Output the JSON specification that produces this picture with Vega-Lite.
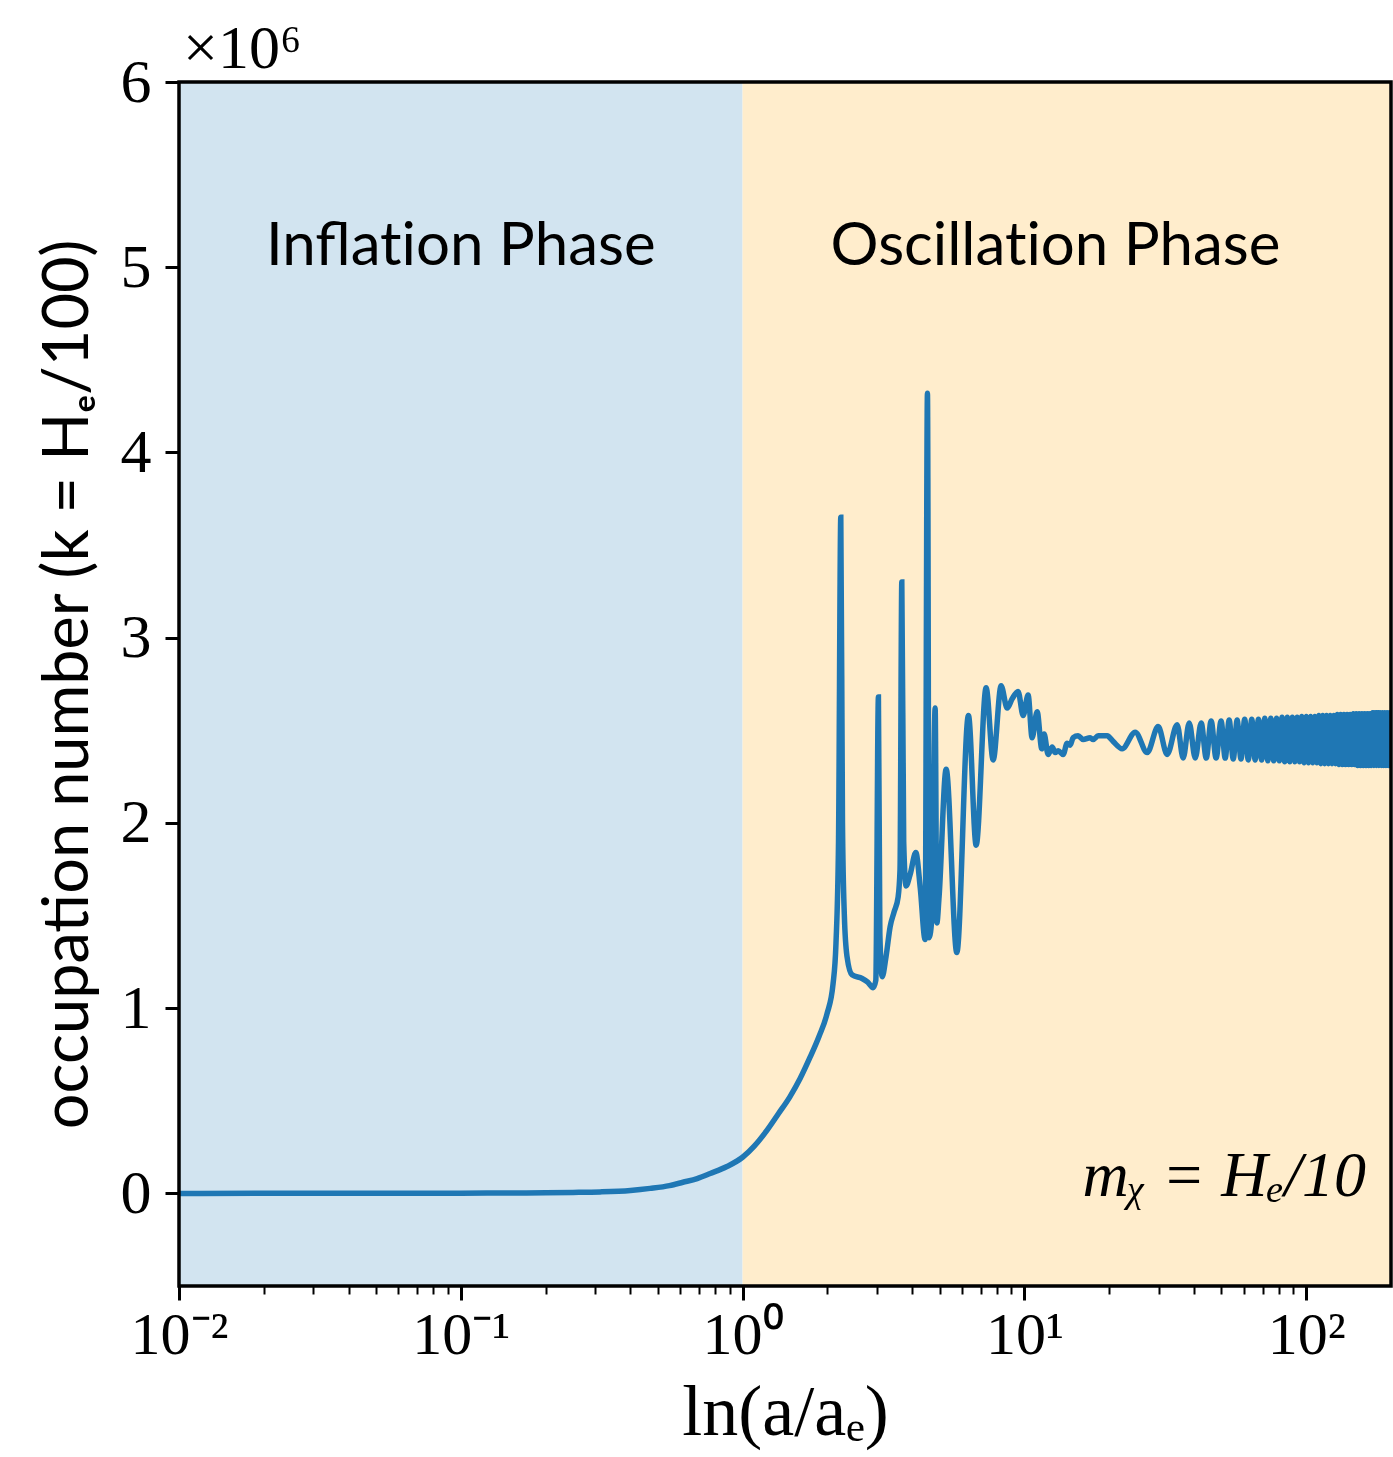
{
  "$schema": "https://vega.github.io/schema/vega-lite/v6.json",
  "autosize": {"type": "none"},
  "width": 1212,
  "height": 1204,
  "padding": {"left": 179, "top": 82, "right": 2, "bottom": 171},
  "background": "white",
  "config": {"view": {"stroke": null}},
  "title": {"text": "×10⁶", "anchor": "start", "frame": "group", "font": "Liberation Serif", "fontSize": 62, "fontWeight": "normal", "color": "black", "offset": 2, "dx": 4, "dy": 32},
  "datasets": {
    "phases": [
      {"start": 0.01, "end": 1, "phase": "Inflation"},
      {"start": 1, "end": 200, "phase": "Oscillation"}
    ],
    "frame": [{"start": 0.01, "end": 200}],
    "labels": [
      {"x": 0.1, "y": 5.11, "text": "Inflat‌ion Phase"},
      {"x": 12.9, "y": 5.11, "text": "Oscillat‌ion Phase"}
    ],
    "mass": [{"x": 163, "y": 0.09, "text": "mᵪ  =  Hₑ/10"}],
    "curve": [
      {"x": 0.01, "y": 0.0}, {"x": 0.02, "y": 0.0001}, {"x": 0.05, "y": 0.0004}, {"x": 0.1, "y": 0.001},
      {"x": 0.15, "y": 0.002}, {"x": 0.2, "y": 0.003}, {"x": 0.25, "y": 0.005}, {"x": 0.312, "y": 0.008},
      {"x": 0.4, "y": 0.016}, {"x": 0.47, "y": 0.027}, {"x": 0.55, "y": 0.042}, {"x": 0.614, "y": 0.06},
      {"x": 0.69, "y": 0.08}, {"x": 0.767, "y": 0.107}, {"x": 0.88, "y": 0.145}, {"x": 1.0, "y": 0.195},
      {"x": 1.1, "y": 0.255}, {"x": 1.22, "y": 0.34}, {"x": 1.34, "y": 0.43}, {"x": 1.47, "y": 0.52},
      {"x": 1.6, "y": 0.62}, {"x": 1.736, "y": 0.735}, {"x": 1.87, "y": 0.85}, {"x": 1.994, "y": 0.97},
      {"x": 2.094, "y": 1.13}, {"x": 2.145, "y": 1.35}, {"x": 2.19, "y": 1.9}, {"x": 2.231, "y": 3.65},
      {"x": 2.262, "y": 2.0}, {"x": 2.297, "y": 1.5}, {"x": 2.347, "y": 1.28}, {"x": 2.446, "y": 1.18},
      {"x": 2.655, "y": 1.16}, {"x": 2.78, "y": 1.14}, {"x": 2.906, "y": 1.11}, {"x": 2.97, "y": 1.15},
      {"x": 3.034, "y": 2.68}, {"x": 3.07, "y": 1.4}, {"x": 3.128, "y": 1.17}, {"x": 3.23, "y": 1.28},
      {"x": 3.339, "y": 1.44}, {"x": 3.45, "y": 1.52}, {"x": 3.564, "y": 1.6}, {"x": 3.62, "y": 1.75},
      {"x": 3.673, "y": 3.3}, {"x": 3.73, "y": 1.9}, {"x": 3.804, "y": 1.66}, {"x": 3.93, "y": 1.72},
      {"x": 4.119, "y": 1.84}, {"x": 4.27, "y": 1.65}, {"x": 4.444, "y": 1.37}, {"x": 4.529, "y": 4.32},
      {"x": 4.592, "y": 1.38}, {"x": 4.7, "y": 1.5}, {"x": 4.823, "y": 2.62}, {"x": 4.891, "y": 1.46},
      {"x": 4.98, "y": 1.6}, {"x": 5.277, "y": 2.29}, {"x": 5.758, "y": 1.3}, {"x": 6.331, "y": 2.58},
      {"x": 6.743, "y": 1.88}, {"x": 7.315, "y": 2.73}, {"x": 7.748, "y": 2.34}, {"x": 8.27, "y": 2.74},
      {"x": 8.69, "y": 2.62}, {"x": 9.05, "y": 2.67}, {"x": 9.5, "y": 2.71}, {"x": 9.9, "y": 2.58},
      {"x": 10.31, "y": 2.69}, {"x": 10.65, "y": 2.46}, {"x": 11.1, "y": 2.6}, {"x": 11.53, "y": 2.4},
      {"x": 11.75, "y": 2.48}, {"x": 12.14, "y": 2.37}, {"x": 12.55, "y": 2.41}, {"x": 12.86, "y": 2.38},
      {"x": 13.18, "y": 2.39}, {"x": 13.73, "y": 2.37}, {"x": 14.18, "y": 2.43}, {"x": 14.54, "y": 2.42},
      {"x": 14.89, "y": 2.46}, {"x": 15.51, "y": 2.47}, {"x": 16.16, "y": 2.45}, {"x": 17.12, "y": 2.46},
      {"x": 17.54, "y": 2.45}, {"x": 18.27, "y": 2.47}, {"x": 19.67, "y": 2.47}, {"x": 20.65, "y": 2.44},
      {"x": 22.23, "y": 2.4}, {"x": 24.73, "y": 2.49}, {"x": 27.28, "y": 2.38}, {"x": 29.84, "y": 2.52},
      {"x": 32.11, "y": 2.37}, {"x": 34.85, "y": 2.53}, {"x": 36.6, "y": 2.35}, {"x": 38.45, "y": 2.54},
      {"x": 40.4, "y": 2.35}, {"x": 42.4, "y": 2.54}, {"x": 44.2, "y": 2.35}, {"x": 46.0, "y": 2.55},
      {"x": 47.9, "y": 2.35}, {"x": 49.9, "y": 2.55}, {"x": 51.6, "y": 2.35}, {"x": 53.3, "y": 2.555},
      {"x": 55.1, "y": 2.345}, {"x": 56.9, "y": 2.555}, {"x": 58.7, "y": 2.345}, {"x": 60.5, "y": 2.56},
      {"x": 62.3, "y": 2.34}, {"x": 64.1, "y": 2.56}, {"x": 65.9, "y": 2.34}, {"x": 67.7, "y": 2.56},
      {"x": 69.5, "y": 2.34}, {"x": 71.3, "y": 2.565}, {"x": 73.1, "y": 2.335}, {"x": 74.9, "y": 2.565},
      {"x": 76.7, "y": 2.335}, {"x": 78.5, "y": 2.565}, {"x": 80.3, "y": 2.335}, {"x": 82.1, "y": 2.57},
      {"x": 83.9, "y": 2.33}, {"x": 85.7, "y": 2.57}, {"x": 87.5, "y": 2.33}, {"x": 89.3, "y": 2.57},
      {"x": 91.1, "y": 2.33}, {"x": 92.9, "y": 2.57}, {"x": 94.7, "y": 2.33}, {"x": 96.5, "y": 2.575},
      {"x": 98.3, "y": 2.325}, {"x": 100.1, "y": 2.575}, {"x": 101.9, "y": 2.325}, {"x": 103.7, "y": 2.575},
      {"x": 105.5, "y": 2.325}, {"x": 107.3, "y": 2.575}, {"x": 109.1, "y": 2.325}, {"x": 110.9, "y": 2.58},
      {"x": 112.7, "y": 2.32}, {"x": 114.5, "y": 2.58}, {"x": 116.3, "y": 2.32}, {"x": 118.1, "y": 2.58},
      {"x": 119.9, "y": 2.32}, {"x": 121.7, "y": 2.58}, {"x": 123.5, "y": 2.32}, {"x": 125.3, "y": 2.58},
      {"x": 127.1, "y": 2.32}, {"x": 128.9, "y": 2.585}, {"x": 130.7, "y": 2.315}, {"x": 132.5, "y": 2.585},
      {"x": 134.3, "y": 2.315}, {"x": 136.1, "y": 2.585}, {"x": 137.9, "y": 2.315}, {"x": 139.7, "y": 2.585},
      {"x": 141.5, "y": 2.315}, {"x": 143.3, "y": 2.585}, {"x": 145.1, "y": 2.315}, {"x": 146.9, "y": 2.59},
      {"x": 148.7, "y": 2.315}, {"x": 150.5, "y": 2.59}, {"x": 152.3, "y": 2.31}, {"x": 154.1, "y": 2.59},
      {"x": 155.9, "y": 2.31}, {"x": 157.7, "y": 2.59}, {"x": 159.5, "y": 2.31}, {"x": 161.3, "y": 2.59},
      {"x": 163.1, "y": 2.31}, {"x": 164.9, "y": 2.59}, {"x": 166.7, "y": 2.31}, {"x": 168.5, "y": 2.59},
      {"x": 170.3, "y": 2.31}, {"x": 172.1, "y": 2.595}, {"x": 173.9, "y": 2.31}, {"x": 175.7, "y": 2.595},
      {"x": 177.5, "y": 2.31}, {"x": 179.3, "y": 2.595}, {"x": 181.1, "y": 2.31}, {"x": 182.9, "y": 2.595},
      {"x": 184.7, "y": 2.31}, {"x": 186.5, "y": 2.595}, {"x": 188.3, "y": 2.31}, {"x": 190.1, "y": 2.595},
      {"x": 191.9, "y": 2.31}, {"x": 193.7, "y": 2.595}, {"x": 195.5, "y": 2.31}, {"x": 197.3, "y": 2.595},
      {"x": 199.1, "y": 2.31}, {"x": 200.9, "y": 2.595}
    ]
  },
  "layer": [
    {
      "data": {"name": "phases"},
      "mark": {"type": "rect"},
      "encoding": {
        "x": {
          "field": "start", "type": "quantitative",
          "scale": {"type": "log", "domain": [0.01, 200], "nice": false},
          "axis": {
            "orient": "bottom",
            "values": [0.01, 0.1, 1, 10, 100],
            "labelExpr": "datum.value < 0.05 ? '10⁻²' : datum.value < 0.5 ? '10⁻¹' : datum.value < 5 ? '10⁰' : datum.value < 50 ? '10¹' : '10²'",
            "title": "ln(a/aₑ)",
            "titleFont": "Liberation Serif", "titleFontSize": 72, "titleFontWeight": "normal", "titleColor": "black", "titlePadding": 12,
            "labelFont": "Liberation Serif", "labelFontSize": 60, "labelColor": "black", "labelPadding": 6,
            "tickSize": 14, "tickWidth": 3, "tickColor": "black",
            "domain": false, "grid": false, "labelFlush": false, "labelOverlap": false
          }
        },
        "x2": {"field": "end"},
        "color": {
          "field": "phase", "type": "nominal",
          "scale": {"domain": ["Inflation", "Oscillation"], "range": ["#d2e4f0", "#ffedcc"]},
          "legend": null
        }
      }
    },
    {
      "data": {"name": "curve"},
      "mark": {"type": "line", "color": "#1f77b4", "strokeWidth": 5.5, "interpolate": "monotone", "clip": true},
      "encoding": {
        "x": {
          "field": "x", "type": "quantitative",
          "axis": {
            "orient": "bottom",
            "values": [0.02, 0.03, 0.04, 0.05, 0.06, 0.07, 0.08, 0.09, 0.2, 0.3, 0.4, 0.5, 0.6, 0.7, 0.8, 0.9, 2, 3, 4, 5, 6, 7, 8, 9, 20, 30, 40, 50, 60, 70, 80, 90],
            "labels": false, "title": null,
            "tickSize": 8, "tickWidth": 2, "tickColor": "black",
            "domain": false, "grid": false
          }
        },
        "y": {
          "field": "y", "type": "quantitative",
          "scale": {"domain": [-0.5, 6], "nice": false, "zero": false},
          "axis": {
            "orient": "left",
            "values": [0, 1, 2, 3, 4, 5, 6],
            "format": "d",
            "title": "occupation number (k = Hₑ/100)",
            "titleFont": "Lato", "titleFontSize": 63, "titleFontWeight": "normal", "titleColor": "black", "titlePadding": 20,
            "labelFont": "Liberation Serif", "labelFontSize": 62, "labelColor": "black", "labelPadding": 14,
            "tickSize": 14, "tickWidth": 3, "tickColor": "black",
            "domain": false, "grid": false
          }
        }
      }
    },
    {
      "data": {"name": "labels"},
      "mark": {"type": "text", "font": "Lato", "fontSize": 60, "color": "black", "align": "center", "baseline": "middle"},
      "encoding": {
        "x": {"field": "x", "type": "quantitative", "axis": null},
        "y": {"field": "y", "type": "quantitative"},
        "text": {"field": "text"}
      }
    },
    {
      "data": {"name": "mass"},
      "mark": {"type": "text", "font": "Liberation Serif", "fontStyle": "italic", "fontSize": 64, "color": "black", "align": "right", "baseline": "middle"},
      "encoding": {
        "x": {"field": "x", "type": "quantitative", "axis": null},
        "y": {"field": "y", "type": "quantitative"},
        "text": {"field": "text"}
      }
    },
    {
      "data": {"name": "frame"},
      "mark": {"type": "rect", "fill": null, "fillOpacity": 0, "stroke": "black", "strokeWidth": 3.5},
      "encoding": {
        "x": {"field": "start", "type": "quantitative", "axis": null},
        "x2": {"field": "end"}
      }
    }
  ],
  "resolve": {"axis": {"x": "independent"}}
}
